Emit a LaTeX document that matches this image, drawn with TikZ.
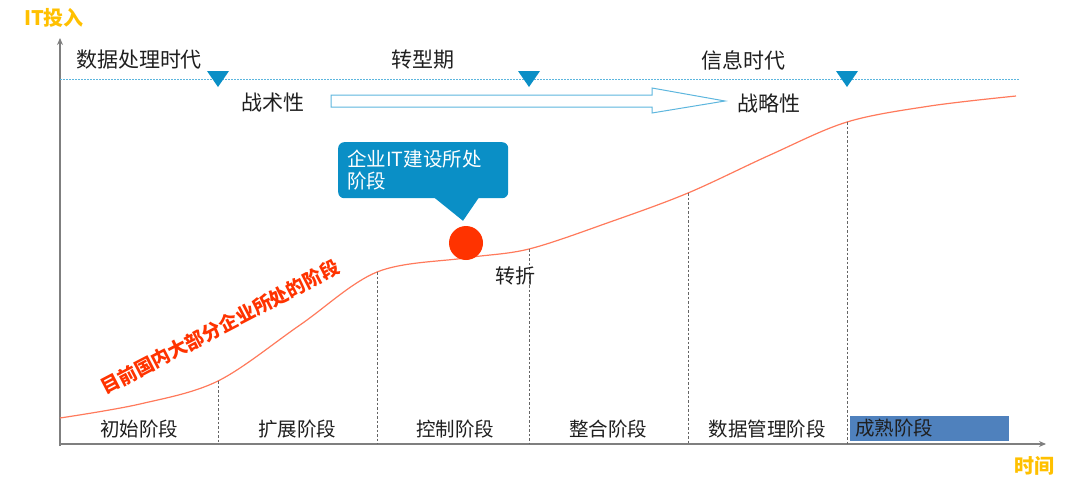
\documentclass[tikz,border=0pt]{standalone}
\usepackage{fontspec}
\setmainfont{Noto Sans CJK SC}
\usetikzlibrary{arrows.meta,calc}
\definecolor{axisgray}{HTML}{7F7F7F}
\definecolor{itorange}{HTML}{FFC000}
\definecolor{curvered}{HTML}{FF7A5C}
\definecolor{dotred}{HTML}{FF3300}
\definecolor{markblue}{HTML}{0A8FC6}
\definecolor{lightblue}{HTML}{5DB6DE}
\definecolor{stageblue}{HTML}{4F81BD}
\definecolor{txt}{HTML}{1F1F1F}
\tikzset{
  axisline/.style={axisgray, line width=1.4pt, -{Stealth[length=7pt,width=6pt]}},
  ttl/.style={font=\fontsize{20}{22}\selectfont\bfseries, text=itorange, inner sep=0pt},
  era/.style={font=\fontsize{21}{23}\selectfont, text=txt, inner sep=0pt},
  stagelbl/.style={font=\fontsize{19.5}{21}\selectfont, text=txt, inner sep=0pt},
  marker/.style={fill=markblue},
  divider/.style={axisgray!80!black, line width=0.7pt, dash pattern=on 2.5pt off 2pt},
}
\begin{document}
\begin{tikzpicture}[x=1pt,y=-1pt]
\useasboundingbox (0,0) rectangle (1080,477);
% axes
\coordinate (o) at (60,444);
\coordinate (ytop) at (60,38);
\coordinate (xend) at (1046,444);
\draw[axisline] (60,446) -- (ytop);
\draw[axisline] (59,444) -- (xend);
\node[ttl] (it) at (54,18) {IT投入};
\node[ttl] (time) at (1034,466) {时间};
% dotted era line
\coordinate (dl) at (60,79);
\coordinate (dr) at (1020,79);
\draw[lightblue, line width=0.8pt, dash pattern=on 1.5pt off 1.5pt] (dl) -- (dr);
% markers
\foreach \mx in {218,529,847}{
  \fill[marker] (\mx-11,71) -- (\mx+11,71) -- (\mx,87) -- cycle;
}
% era labels
\node[era] (e1) at (139,60) {数据处理时代};
\node[era] (e2) at (423,60) {转型期};
\node[era] (e3) at (743,60) {信息时代};
\node[era] (tac) at (273,103) {战术性};
\node[era] (str) at (769,103) {战略性};
% hollow arrow
\draw[lightblue, line width=1pt, fill=white]
  (331,95) -- (652,95) -- (652,88) -- (725,101) -- (652,113) -- (652,107) -- (331,107) -- cycle;
% curve
\coordinate (c0) at (60,418);
\coordinate (c1) at (218,381);
\coordinate (c2) at (377,272);
\coordinate (c3) at (465,258);
\coordinate (c4) at (529,249);
\coordinate (c5) at (688,193);
\coordinate (c6) at (847,122);
\coordinate (c7) at (1016,96);
\draw[curvered, line width=1.2pt] plot[smooth, tension=0.55] coordinates
  {(60,418) (140,404) (218,381) (300,325) (377,272) (465,258) (529,249) (610,222) (688,193) (770,155) (847,122) (930,106) (1016,96)};
% dividers
\foreach \c in {c1,c2,c4,c5,c6}{
  \draw[divider] (\c) -- (\c |- o);
}
% stage labels
\node[stagelbl] (s1) at (139,429) {初始阶段};
\node[stagelbl] (s2) at (297,429) {扩展阶段};
\node[stagelbl] (s3) at (455,429) {控制阶段};
\node[stagelbl] (s4) at (608,429) {整合阶段};
\node[stagelbl] (s5) at (767,429) {数据管理阶段};
\node[stagelbl, fill=stageblue, minimum width=157pt, minimum height=25pt, anchor=west, text width=149pt, inner xsep=5pt, align=left] (s6) at (850,428) {成熟阶段};
% red dot
\node[circle, fill=dotred, minimum size=34pt, inner sep=0pt] (dot) at (466,243) {};
% callout
\node[fill=markblue, rounded corners=6pt, text=white, align=left, anchor=north west,
      minimum width=167pt, minimum height=56pt, text width=152pt, inner xsep=9pt,
      font=\fontsize{19.5}{22}\selectfont] (call) at (338,142) {企业IT建设所处\\阶段};
\fill[markblue] ($(call.south west)+(96,-1)$) -- ($(call.south west)+(141,-1)$) -- ($(dot.north)+(-3,-5)$) -- cycle;
% turning label
\node[era, font=\fontsize{20}{22}\selectfont] (turn) at (515,276) {转折};
% rotated label
\node[font=\fontsize{19}{21}\selectfont\bfseries, text=dotred, rotate=27.5, inner sep=0pt] (cur) at (220,327) {目前国内大部分企业所处的阶段};
\end{tikzpicture}
\end{document}
